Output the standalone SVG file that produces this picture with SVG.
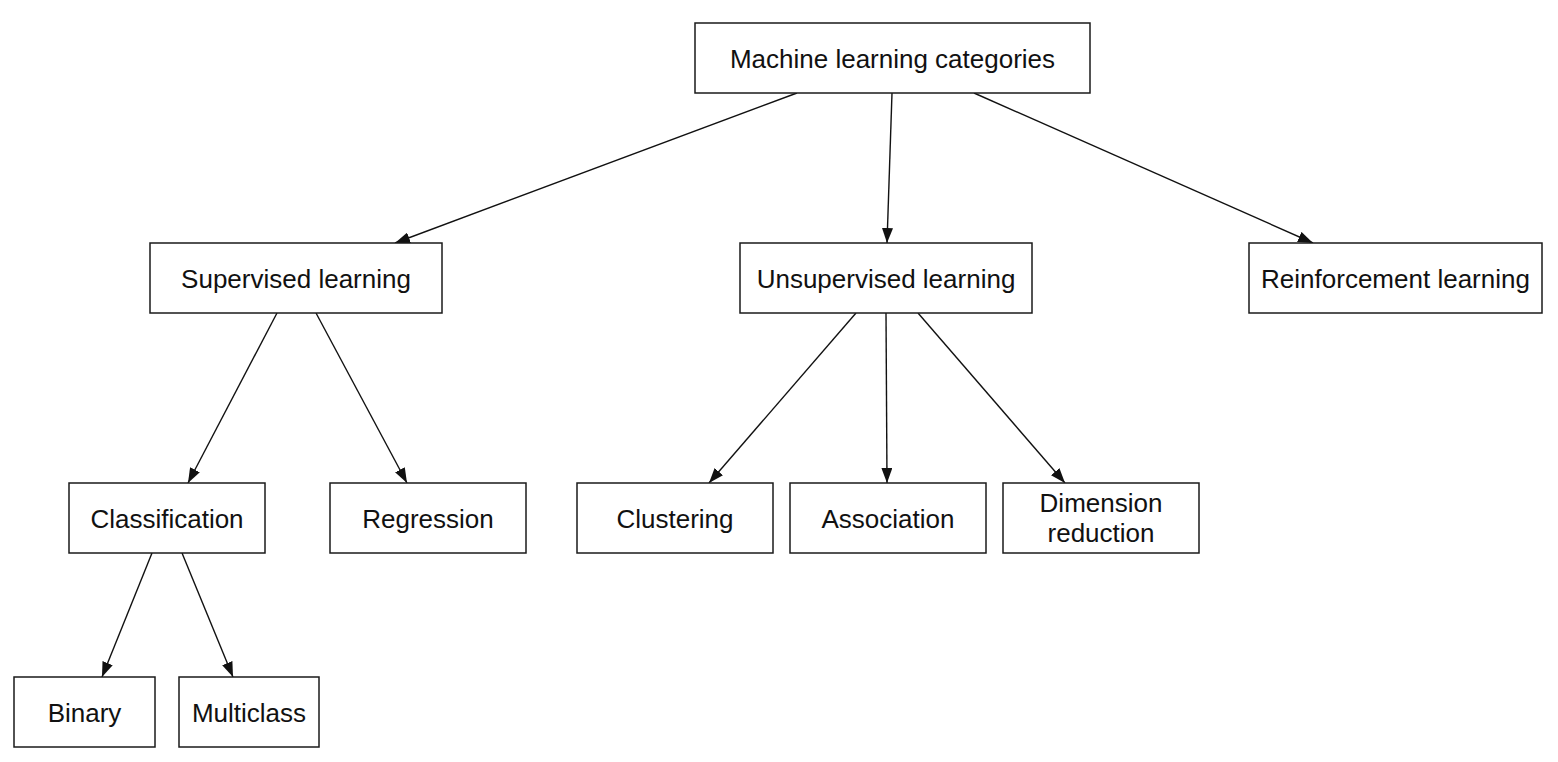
<svg xmlns="http://www.w3.org/2000/svg" width="1558" height="762" viewBox="0 0 1558 762">
<style>
.box{fill:#fff;stroke:#1a1a1a;stroke-width:1.5}
.lbl{font-family:"Liberation Sans",Arial,sans-serif;font-size:26px;fill:#111;text-anchor:middle;dominant-baseline:central}
.edge{stroke:#111;stroke-width:1.4;fill:none;marker-end:url(#ah)}
</style>
<defs>
<marker id="ah" viewBox="0 0 15 11" refX="15" refY="5.5" markerWidth="15" markerHeight="11" markerUnits="userSpaceOnUse" orient="auto">
<path d="M0,0 L15,5.5 L0,11 Z" fill="#111"/>
</marker>
</defs>
<rect width="1558" height="762" fill="#fff"/>
<g id="connectors">
<line class="edge" x1="797" y1="93" x2="395" y2="243"/>
<line class="edge" x1="892" y1="93" x2="887" y2="243"/>
<line class="edge" x1="974" y1="93" x2="1313" y2="243"/>
<line class="edge" x1="277" y1="313" x2="188" y2="483"/>
<line class="edge" x1="316" y1="313" x2="407" y2="483"/>
<line class="edge" x1="856" y1="313" x2="709" y2="483"/>
<line class="edge" x1="886" y1="313" x2="887" y2="483"/>
<line class="edge" x1="918" y1="313" x2="1065" y2="483"/>
<line class="edge" x1="152" y1="553" x2="102" y2="677"/>
<line class="edge" x1="182" y1="553" x2="233" y2="677"/>
</g>
<g id="root"><rect class="box" x="695" y="23" width="395" height="70"/><text class="lbl" x="892.5" y="59">Machine learning categories</text></g>
<g id="supervised"><rect class="box" x="150" y="243" width="292" height="70"/><text class="lbl" x="296" y="279">Supervised learning</text></g>
<g id="unsupervised"><rect class="box" x="740" y="243" width="292" height="70"/><text class="lbl" x="886" y="279">Unsupervised learning</text></g>
<g id="reinforcement"><rect class="box" x="1249" y="243" width="293" height="70"/><text class="lbl" x="1395.5" y="279">Reinforcement learning</text></g>
<g id="classification"><rect class="box" x="69" y="483" width="196" height="70"/><text class="lbl" x="167" y="519">Classification</text></g>
<g id="regression"><rect class="box" x="330" y="483" width="196" height="70"/><text class="lbl" x="428" y="519">Regression</text></g>
<g id="clustering"><rect class="box" x="577" y="483" width="196" height="70"/><text class="lbl" x="675" y="519">Clustering</text></g>
<g id="association"><rect class="box" x="790" y="483" width="196" height="70"/><text class="lbl" x="888" y="519">Association</text></g>
<g id="dimension"><rect class="box" x="1003" y="483" width="196" height="70"/><text class="lbl" x="1101" y="503">Dimension</text><text class="lbl" x="1101" y="533">reduction</text></g>
<g id="binary"><rect class="box" x="14" y="677" width="141" height="70"/><text class="lbl" x="84.5" y="713">Binary</text></g>
<g id="multiclass"><rect class="box" x="179" y="677" width="140" height="70"/><text class="lbl" x="249" y="713">Multiclass</text></g>
</svg>
